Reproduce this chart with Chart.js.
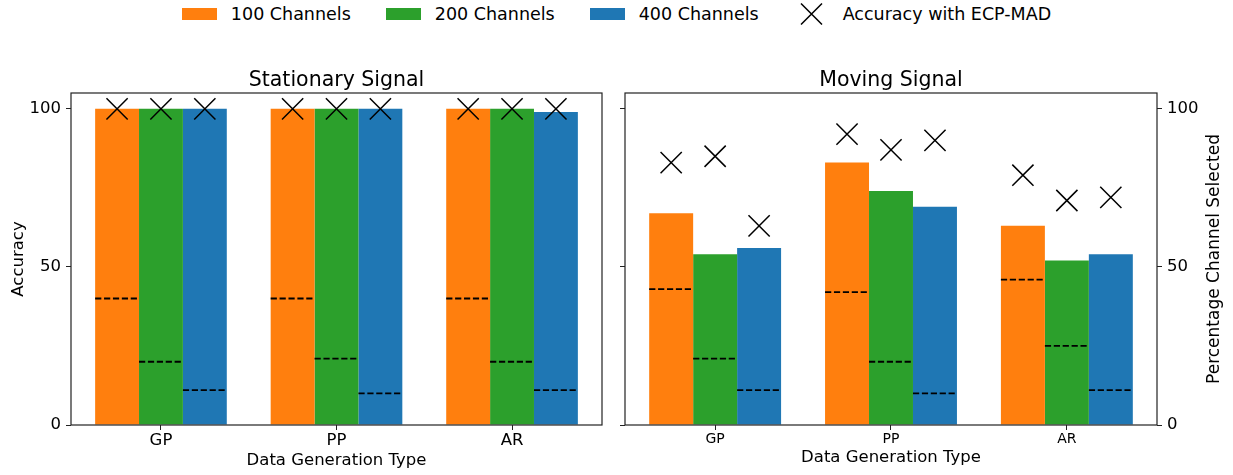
<!DOCTYPE html>
<html>
<head>
<meta charset="utf-8">
<script src="https://cdn.jsdelivr.net/npm/chart.js@4.4.1/dist/chart.umd.min.js"></script>
<style>
  html, body { margin: 0; padding: 0; background: #fff; }
  #wrap { position: relative; width: 1233px; height: 475px; font-family: 'DejaVu Sans', sans-serif; }
  #left { position: absolute; left: 0; top: 0; }
  #right { position: absolute; left: 612px; top: 0; }
  #legend { position: absolute; left: 0; top: 0; width: 1233px; height: 28px;
            display: flex; justify-content: center; align-items: center;
            font-size: 17.5px; color: #000; }
  .item { display: flex; align-items: center; margin: 0 17.5px; }
  .swatch { width: 35px; height: 12px; margin-right: 14px; }
  .mark { width: 35px; height: 22px; margin-right: 14px; }
</style>
</head>
<body>
<div id="wrap">
  <div id="legend"></div>
  <canvas id="left" width="612" height="475"></canvas>
  <canvas id="right" width="621" height="475"></canvas>
</div>
<script>
// categories and series
const categories = ['GP', 'PP', 'AR'];
const seriesNames = ['100 Channels', '200 Channels', '400 Channels'];
const seriesColors = ['#ff7f0e', '#2ca02c', '#1f77b4'];
const markerLabel = 'Accuracy with ECP-MAD';
const yTicks = [0, 50, 100];

// Stationary Signal
const statBar100 = [100, 100, 100];
const statBar200 = [100, 100, 100];
const statBar400 = [100, 100, 99];
const statSel100 = [40, 40, 40];
const statSel200 = [20, 21, 20];
const statSel400 = [11, 10, 11];
const statAcc100 = [100, 100, 100];
const statAcc200 = [100, 100, 100];
const statAcc400 = [100, 100, 100];

// Moving Signal
const movBar100 = [67, 83, 63];
const movBar200 = [54, 74, 52];
const movBar400 = [56, 69, 54];
const movSel100 = [43, 42, 46];
const movSel200 = [21, 20, 25];
const movSel400 = [11, 10, 11];
const movAcc100 = [83, 92, 79];
const movAcc200 = [85, 87, 71];
const movAcc400 = [63, 90, 72];

const groupShare = 0.75;                       // part of a category taken by the 3 bars
const barUnit = groupShare / seriesNames.length;
const xMargin = 0.5125;
const ink = '#222';

Chart.defaults.font.family = "'DejaVu Sans', sans-serif";
Chart.defaults.color = '#000';

// legend (html)
const legend = document.getElementById('legend');
seriesNames.forEach((name, s) => {
  legend.insertAdjacentHTML('beforeend',
    `<div class="item"><div class="swatch" style="background:${seriesColors[s]}"></div><span>${name}</span></div>`);
});
legend.insertAdjacentHTML('beforeend',
  `<div class="item"><svg class="mark" viewBox="0 0 35 22"><path d="M7 0.5 L28 21.5 M28 0.5 L7 21.5" stroke="#000" stroke-width="1.5"/></svg><span>${markerLabel}</span></div>`);

// frame around the plot area
const frame = {
  id: 'frame',
  afterDraw(chart) {
    const { ctx, chartArea: a } = chart;
    ctx.save();
    ctx.strokeStyle = ink;
    ctx.lineWidth = 1.2;
    ctx.strokeRect(a.left, a.top, a.right - a.left, a.bottom - a.top);
    ctx.restore();
  }
};

function buildDatasets(bars, sels, accs) {
  const out = [];
  bars.forEach((vals, s) => {
    out.push({
      type: 'bar', label: seriesNames[s], order: 2,
      data: vals.map((v, i) => ({ x: i, y: v })),
      backgroundColor: seriesColors[s], borderWidth: 0,
      categoryPercentage: groupShare, barPercentage: 1
    });
  });
  sels.forEach((vals, s) => {
    const pts = [];
    vals.forEach((v, i) => {
      const c = i + (s - 1) * barUnit;
      pts.push({ x: c - barUnit / 2, y: v }, { x: c + barUnit / 2, y: v }, { x: c + barUnit, y: null });
    });
    out.push({
      type: 'line', order: 1, data: pts, spanGaps: false,
      borderColor: '#000', borderWidth: 1.8, borderDash: [6.2, 2.7],
      pointRadius: 0, fill: false
    });
  });
  accs.forEach((vals, s) => {
    out.push({
      type: 'scatter', order: 0,
      data: vals.map((v, i) => ({ x: i + (s - 1) * barUnit, y: v })),
      pointStyle: 'crossRot', pointRadius: 15,
      borderColor: '#000', borderWidth: 1.5, backgroundColor: 'transparent'
    });
  });
  return out;
}

function xScale(tickSize, titleBottom) {
  return {
    type: 'linear', min: -xMargin, max: categories.length - 1 + xMargin, offset: false,
    afterBuildTicks: s => { s.ticks = categories.map((c, i) => ({ value: i })); },
    afterFit: s => { s.height = 50; },
    ticks: { callback: v => categories[v], font: { size: tickSize }, padding: 1, maxRotation: 0, autoSkip: false },
    grid: { drawOnChartArea: false, tickLength: 5, color: ink, offset: false },
    border: { display: false },
    title: { display: true, text: 'Data Generation Type', font: { size: 16.5 }, padding: { top: 0, bottom: titleBottom } }
  };
}

function yScale(position, width, showLabels, title) {
  return {
    type: 'linear', position, min: 0, max: 105,
    afterBuildTicks: s => { s.ticks = yTicks.map(v => ({ value: v })); },
    afterFit: s => { s.width = width; },
    ticks: { display: showLabels, font: { size: 16.5 }, padding: 5 },
    grid: { drawOnChartArea: false, tickLength: 5, color: ink },
    border: { display: false },
    title: title ? { display: true, text: title, font: { size: 16.5 }, padding: { top: 8.4, bottom: 0 } } : { display: false }
  };
}

function baseOptions(titleText) {
  return {
    responsive: false,
    animation: false,
    plugins: {
      legend: { display: false },
      tooltip: { enabled: false },
      title: {
        display: true, text: titleText, fullSize: false,
        font: { size: 20.5, weight: 'normal' }, padding: { top: 68, bottom: 0.4 }
      }
    }
  };
}

// left: Stationary Signal
const leftOpts = baseOptions('Stationary Signal');
leftOpts.layout = { autoPadding: false, padding: { left: 0, right: 10, top: 0, bottom: 0 } };
leftOpts.scales = { x: xScale(16.5, 4), y: yScale('left', 71, true, 'Accuracy') };
new Chart(document.getElementById('left'), {
  type: 'bar',
  data: { datasets: buildDatasets([statBar100, statBar200, statBar400],
                                  [statSel100, statSel200, statSel400],
                                  [statAcc100, statAcc200, statAcc400]) },
  options: leftOpts,
  plugins: [frame]
});

// right: Moving Signal, labels on the right axis
const rightLabel = 'Percentage Channel Selected';
const rightTitle = {
  id: 'rightTitle',
  afterDraw(chart) {
    const s = chart.scales.y2;
    const ctx = chart.ctx;
    ctx.save();
    ctx.font = "17px 'DejaVu Sans'";
    ctx.fillStyle = '#000';
    ctx.textAlign = 'center';
    ctx.textBaseline = 'middle';
    ctx.translate(s.right - 18, (s.top + s.bottom) / 2);
    ctx.rotate(-Math.PI / 2);
    ctx.fillText(rightLabel, 0, 0);
    ctx.restore();
  }
};
const rightOpts = baseOptions('Moving Signal');
rightOpts.layout = { autoPadding: false, padding: 0 };
rightOpts.scales = { x: xScale(14, 7), y: yScale('left', 13, false, null), y2: yScale('right', 76, true, null) };
new Chart(document.getElementById('right'), {
  type: 'bar',
  data: { datasets: buildDatasets([movBar100, movBar200, movBar400],
                                  [movSel100, movSel200, movSel400],
                                  [movAcc100, movAcc200, movAcc400]) },
  options: rightOpts,
  plugins: [frame, rightTitle]
});
</script>
</body>
</html>
